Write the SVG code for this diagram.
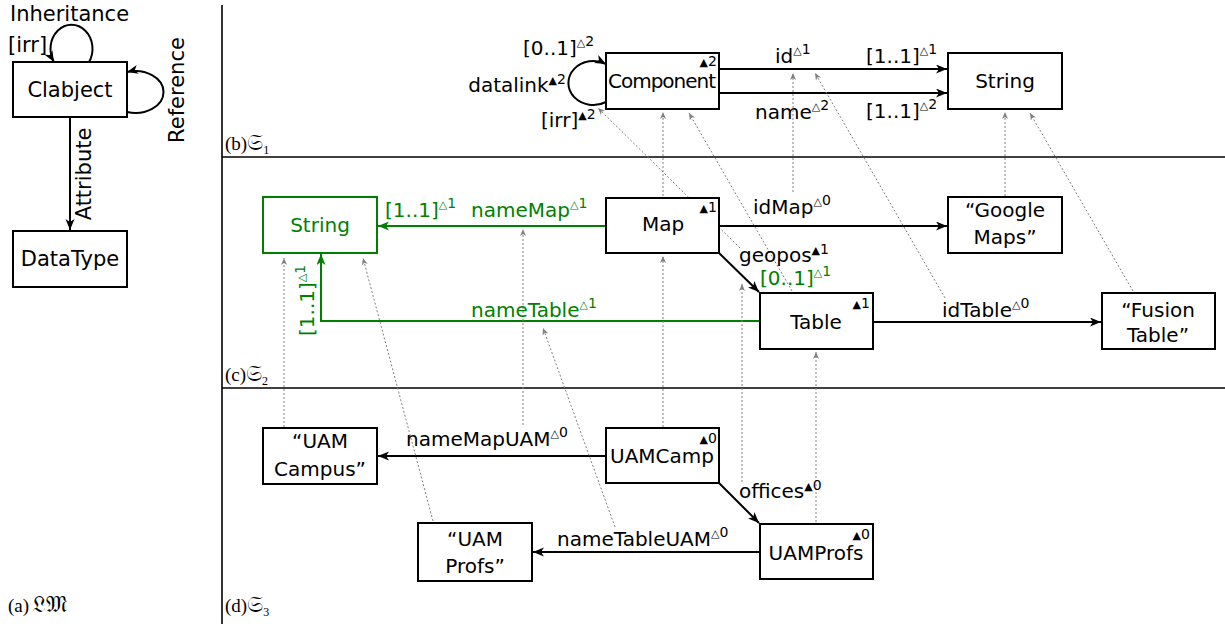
<svg xmlns="http://www.w3.org/2000/svg" width="1225" height="624" viewBox="0 0 1225 624">
<style>
text{font-family:"DejaVu Sans","Noto Sans",sans-serif;font-size:20px;fill:#000}
.lp{font-size:21px}
.g{fill:#008000}
.box{fill:#fff;stroke:#000;stroke-width:2}
.gbox{fill:#fff;stroke:#008000;stroke-width:2}
.e{fill:none;stroke:#000;stroke-width:2}
.ge{fill:none;stroke:#008000;stroke-width:2}
.d{fill:none;stroke:#808080;stroke-width:1;stroke-dasharray:2 2}
.sep{stroke:#000;stroke-width:1.6}
.lab{font-family:"Liberation Serif","DejaVu Serif",serif;font-size:19px}
.frak{font-family:"DejaVu Sans","DejaVu Serif","Noto Sans",serif;font-size:23px}
.t{font-size:11px}
.b{font-size:11px}
.n{font-size:14px}
.c{text-anchor:middle}
.r{text-anchor:end}
</style>
<defs>
<marker id="ah" markerUnits="userSpaceOnUse" markerWidth="12" markerHeight="10" refX="11" refY="4.5" orient="auto"><path d="M0,0 L11,4.5 L0,9 L3,4.5 z" fill="#000"/></marker>
<marker id="gh" markerUnits="userSpaceOnUse" markerWidth="12" markerHeight="10" refX="11" refY="4.5" orient="auto"><path d="M0,0 L11,4.5 L0,9 L3,4.5 z" fill="#008000"/></marker>
<marker id="dh" markerUnits="userSpaceOnUse" markerWidth="8" markerHeight="6" refX="7" refY="3" orient="auto"><path d="M0,0 L7,3 L0,6 L2,3 z" fill="#808080"/></marker>
</defs>

<!-- separators and panel labels -->
<g id="frame">
<line class="sep" x1="222" y1="5" x2="222" y2="624"/>
<line class="sep" x1="222" y1="157" x2="1225" y2="157"/>
<line class="sep" x1="222" y1="388" x2="1225" y2="388"/>
<text class="lab" x="8" y="612">(a)<tspan class="frak" dx="3">𝔏𝔐</tspan></text>
<text class="lab" x="225" y="150">(b)<tspan class="frak">𝔖</tspan><tspan font-size="12" dy="4">1</tspan></text>
<text class="lab" x="225" y="381">(c)<tspan class="frak">𝔖</tspan><tspan font-size="12" dy="4">2</tspan></text>
<text class="lab" x="225" y="612">(d)<tspan class="frak">𝔖</tspan><tspan font-size="12" dy="4">3</tspan></text>
</g>

<!-- connectors -->
<g id="connectors">
<!-- left panel -->
<path class="e" d="M89,62 A21,24 0 1 0 54,62" marker-end="url(#ah)"/>
<path class="e" d="M127,112 A28,21 0 1 0 127,72" marker-end="url(#ah)"/>
<line class="e" x1="70" y1="117" x2="70" y2="230" marker-end="url(#ah)"/>
<!-- S1 -->
<path class="e" d="M606,102 A25,22 0 1 1 606,64" marker-end="url(#ah)"/>
<line class="e" x1="719" y1="69" x2="947" y2="69" marker-end="url(#ah)"/>
<line class="e" x1="719" y1="93" x2="947" y2="93" marker-end="url(#ah)"/>
<!-- S2 -->
<line class="ge" x1="606" y1="226" x2="378" y2="226" marker-end="url(#gh)"/>
<polyline class="ge" points="760,321 321,321 321,254" marker-end="url(#gh)"/>
<line class="e" x1="719" y1="226" x2="947" y2="226" marker-end="url(#ah)"/>
<line class="e" x1="719" y1="253" x2="759" y2="292" marker-end="url(#ah)"/>
<line class="e" x1="873" y1="322" x2="1101" y2="322" marker-end="url(#ah)"/>
<!-- S3 -->
<line class="e" x1="606" y1="456" x2="378" y2="456" marker-end="url(#ah)"/>
<line class="e" x1="760" y1="552" x2="533" y2="552" marker-end="url(#ah)"/>
<line class="e" x1="719" y1="483" x2="759" y2="523" marker-end="url(#ah)"/>
<!-- typing (dotted) -->
<line class="d" x1="663" y1="196" x2="663" y2="112" marker-end="url(#dh)"/>
<line class="d" x1="663" y1="427" x2="663" y2="256" marker-end="url(#dh)"/>
<line class="d" x1="1005" y1="196" x2="1005" y2="112" marker-end="url(#dh)"/>
<line class="d" x1="1133" y1="291" x2="1030" y2="113" marker-end="url(#dh)"/>
<line class="d" x1="793" y1="192" x2="793" y2="73" marker-end="url(#dh)"/>
<line class="d" x1="945" y1="298" x2="815" y2="73" marker-end="url(#dh)"/>
<line class="d" x1="740" y1="248" x2="598" y2="108" marker-end="url(#dh)"/>
<line class="d" x1="792" y1="291" x2="689" y2="113" marker-end="url(#dh)"/>
<line class="d" x1="816" y1="522" x2="816" y2="352" marker-end="url(#dh)"/>
<line class="d" x1="742" y1="482" x2="742" y2="284" marker-end="url(#dh)"/>
<line class="d" x1="284" y1="427" x2="284" y2="258" marker-end="url(#dh)"/>
<line class="d" x1="433" y1="521" x2="363" y2="258" marker-end="url(#dh)"/>
<line class="d" x1="523" y1="425" x2="523" y2="229" marker-end="url(#dh)"/>
<line class="d" x1="615" y1="527" x2="543" y2="328" marker-end="url(#dh)"/>
</g>

<!-- connector labels -->
<g id="edge-labels">
<text class="lp" x="10" y="21">Inheritance</text>
<text class="lp" x="8" y="52">[irr]</text>
<text class="lp c" transform="translate(184,90) rotate(-90)">Reference</text>
<text class="lp c" transform="translate(91,174) rotate(-90)">Attribute</text>

<text x="523" y="55">[0..1]<tspan class="t" dy="-9">△</tspan><tspan class="n">2</tspan></text>
<text class="r" x="566" y="92">datalink<tspan class="b" dy="-8">▲</tspan><tspan class="n">2</tspan></text>
<text x="541" y="127">[irr]<tspan class="b" dy="-8">▲</tspan><tspan class="n">2</tspan></text>
<text x="775" y="63">id<tspan class="t" dy="-9">△</tspan><tspan class="n">1</tspan></text>
<text x="866" y="63">[1..1]<tspan class="t" dy="-9">△</tspan><tspan class="n">1</tspan></text>
<text x="755" y="119">name<tspan class="t" dy="-9">△</tspan><tspan class="n">2</tspan></text>
<text x="866" y="118">[1..1]<tspan class="t" dy="-9">△</tspan><tspan class="n">2</tspan></text>

<text class="g" x="385" y="217">[1..1]<tspan class="t g" dy="-9">△</tspan><tspan class="n g">1</tspan></text>
<text class="g" x="471" y="217">nameMap<tspan class="t g" dy="-9">△</tspan><tspan class="n g">1</tspan></text>
<text class="g" x="471" y="317">nameTable<tspan class="t g" dy="-9">△</tspan><tspan class="n g">1</tspan></text>
<text class="g" transform="translate(314,336) rotate(-90)">[1..1]<tspan class="t g" dy="-9">△</tspan><tspan class="n g">1</tspan></text>
<text x="753" y="214">idMap<tspan class="t" dy="-9">△</tspan><tspan class="n">0</tspan></text>
<text x="739" y="262">geopos<tspan class="b" dy="-8">▲</tspan><tspan class="n">1</tspan></text>
<text class="g" x="760" y="285">[0..1]<tspan class="t g" dy="-9">△</tspan><tspan class="n g">1</tspan></text>
<text x="942" y="317">idTable<tspan class="t" dy="-9">△</tspan><tspan class="n">0</tspan></text>

<text x="406" y="446">nameMapUAM<tspan class="t" dy="-9">△</tspan><tspan class="n">0</tspan></text>
<text x="557" y="546">nameTableUAM<tspan class="t" dy="-9">△</tspan><tspan class="n">0</tspan></text>
<text x="739" y="498">offices<tspan class="b" dy="-8">▲</tspan><tspan class="n">0</tspan></text>
</g>

<!-- nodes -->
<g id="clabject"><rect class="box" x="13" y="62" width="114" height="55"/><text class="lp c" x="70" y="97">Clabject</text></g>
<g id="datatype"><rect class="box" x="13" y="231" width="114" height="56"/><text class="lp c" x="70" y="266">DataType</text></g>

<g id="component"><rect class="box" x="606" y="53" width="113" height="56"/><text class="c" x="662" y="88" textLength="108" font-size="18">Component</text><text class="r" x="717" y="66"><tspan class="b">▲</tspan><tspan class="n">2</tspan></text></g>
<g id="string1"><rect class="box" x="948" y="53" width="114" height="56"/><text class="c" x="1005" y="88">String</text></g>

<g id="string2"><rect class="gbox" x="263" y="197" width="114" height="56"/><text class="c g" x="320" y="232">String</text></g>
<g id="map"><rect class="box" x="606" y="198" width="113" height="55"/><text class="c" x="663" y="231">Map</text><text class="r" x="717" y="212"><tspan class="b">▲</tspan><tspan class="n">1</tspan></text></g>
<g id="googlemaps"><rect class="box" x="948" y="197" width="114" height="56"/><text class="c" x="1005" y="217">“Google</text><text class="c" x="1005" y="244">Maps”</text></g>
<g id="table"><rect class="box" x="760" y="293" width="113" height="56"/><text class="c" x="816" y="329">Table</text><text class="r" x="870" y="308"><tspan class="b">▲</tspan><tspan class="n">1</tspan></text></g>
<g id="fusiontable"><rect class="box" x="1102" y="293" width="113" height="56"/><text class="c" x="1158" y="317">“Fusion</text><text class="c" x="1158" y="342">Table”</text></g>

<g id="uamcampus"><rect class="box" x="263" y="428" width="114" height="56"/><text class="c" x="320" y="448">“UAM</text><text class="c" x="320" y="476">Campus”</text></g>
<g id="uamcamp"><rect class="box" x="606" y="428" width="113" height="55"/><text class="c" x="662" y="463">UAMCamp</text><text class="r" x="717" y="443"><tspan class="b">▲</tspan><tspan class="n">0</tspan></text></g>
<g id="uamprofstr"><rect class="box" x="418" y="523" width="114" height="58"/><text class="c" x="475" y="546">“UAM</text><text class="c" x="475" y="573">Profs”</text></g>
<g id="uamprofs"><rect class="box" x="760" y="524" width="113" height="55"/><text class="c" x="816" y="560">UAMProfs</text><text class="r" x="870" y="539"><tspan class="b">▲</tspan><tspan class="n">0</tspan></text></g>
</svg>
